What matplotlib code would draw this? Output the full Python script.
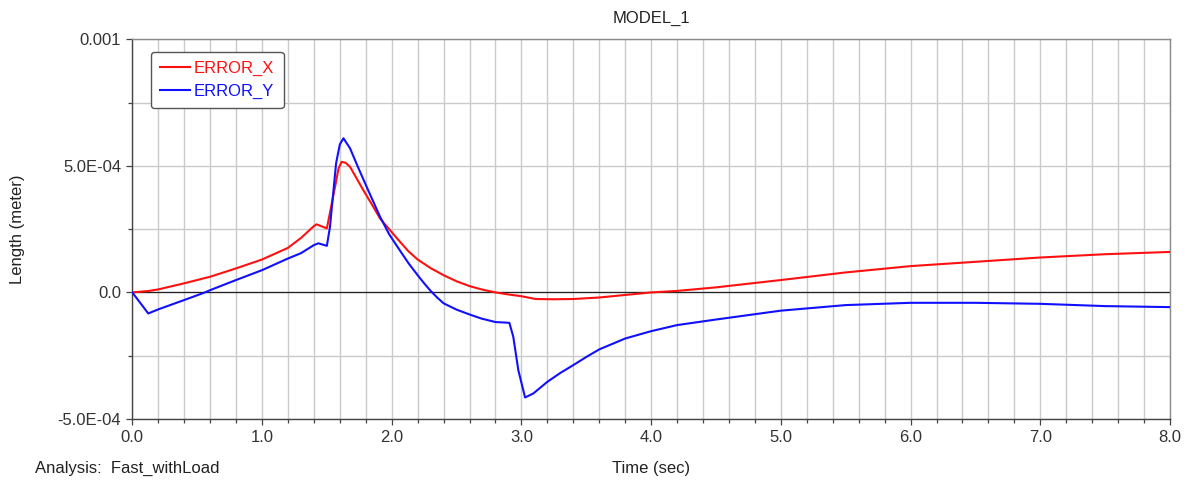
import matplotlib
matplotlib.use("Agg")
import matplotlib.pyplot as plt
from matplotlib.ticker import FixedLocator, FixedFormatter, MultipleLocator

plt.rcParams['font.family'] = ['Liberation Sans', 'DejaVu Sans']
plt.rcParams['font.size'] = 12

# Simulation results (time in s, error in units of 1e-4 m)
time_x = [0.0, 0.13, 0.2, 0.4, 0.6, 0.8, 1.0, 1.2, 1.3, 1.4, 1.42, 1.5,
          1.563, 1.59, 1.614, 1.645, 1.679, 1.73, 1.781, 1.85, 1.91, 1.98,
          2.064, 2.13, 2.2, 2.3, 2.4, 2.5, 2.6, 2.7, 2.8, 2.9, 3.0, 3.11, 3.25,
          3.4, 3.6, 3.8, 4.0, 4.2, 4.5, 5.0, 5.5, 6.0, 6.5, 7.0, 7.5, 8.0]
error_x = [0.0, 0.06, 0.12, 0.36, 0.62, 0.95, 1.3, 1.76, 2.15, 2.62, 2.69, 2.53,
           4.17, 4.9, 5.16, 5.12, 4.96, 4.5, 4.04, 3.45, 2.92, 2.5,
           2.0, 1.62, 1.3, 0.96, 0.68, 0.44, 0.25, 0.11, 0.0, -0.08, -0.15, -0.26, -0.27,
           -0.26, -0.2, -0.1, 0.0, 0.06, 0.2, 0.49, 0.79, 1.04, 1.21, 1.38, 1.51, 1.6]

time_y = [0.0, 0.123, 0.2, 0.4, 0.56, 0.6, 0.8, 1.0, 1.2, 1.3, 1.4, 1.435, 1.5,
          1.524, 1.571, 1.6, 1.628, 1.679, 1.74, 1.807, 1.91, 1.98, 2.064, 2.13,
          2.2, 2.25, 2.3, 2.35, 2.4, 2.5, 2.6, 2.69, 2.8, 2.907, 2.937, 2.976,
          3.028, 3.092, 3.2, 3.3, 3.4, 3.5, 3.6, 3.8, 4.0, 4.2, 4.5, 5.0, 5.5,
          6.0, 6.5, 7.0, 7.5, 8.0]
error_y = [0.0, -0.83, -0.67, -0.3, 0.0, 0.09, 0.49, 0.88, 1.34, 1.55, 1.87, 1.94, 1.84,
           2.59, 5.1, 5.85, 6.09, 5.69, 4.95, 4.17, 2.99, 2.3, 1.65, 1.15,
           0.68, 0.36, 0.06, -0.2, -0.43, -0.68, -0.87, -1.03, -1.17, -1.2, -1.75, -3.07,
           -4.15, -3.99, -3.53, -3.18, -2.87, -2.55, -2.25, -1.82, -1.53, -1.29, -1.07,
           -0.72, -0.5, -0.41, -0.41, -0.45, -0.54, -0.58]

series_names = ["ERROR_X", "ERROR_Y"]
x_ticks = [0.0, 1.0, 2.0, 3.0, 4.0, 5.0, 6.0, 7.0, 8.0]
x_tick_labels = ["0.0", "1.0", "2.0", "3.0", "4.0", "5.0", "6.0", "7.0", "8.0"]
y_ticks = [-5e-4, 0.0, 5e-4, 1e-3]
y_tick_labels = ["-5.0E-04", "0.0", "5.0E-04", "0.001"]

SCALE = 1e-4

fig = plt.figure(figsize=(11.94, 4.84), dpi=100)
ax = fig.add_axes([0.1108, 0.1343, 0.8691, 0.7845])

ax.set_xlim(0.0, 8.0)
ax.set_ylim(-5e-4, 1e-3)

# grid: every 0.2 s and every 2.5e-4 m
ax.xaxis.set_major_locator(FixedLocator(x_ticks))
ax.xaxis.set_major_formatter(FixedFormatter(x_tick_labels))
ax.xaxis.set_minor_locator(MultipleLocator(0.2))
ax.yaxis.set_major_locator(FixedLocator(y_ticks))
ax.yaxis.set_major_formatter(FixedFormatter(y_tick_labels))
ax.yaxis.set_minor_locator(MultipleLocator(2.5e-4))
ax.grid(True, which='both', color='#cacaca', linewidth=1.0)
ax.set_axisbelow(True)

ax.axhline(0.0, color='#222222', linewidth=0.9, zorder=2)

ax.plot(time_x, [v * SCALE for v in error_x], color='#ff1010', linewidth=1.5,
        label=series_names[0], zorder=3)
ax.plot(time_y, [v * SCALE for v in error_y], color='#1010ff', linewidth=1.5,
        label=series_names[1], zorder=4)

for side in ('left', 'bottom'):
    ax.spines[side].set_color('#444444')
    ax.spines[side].set_linewidth(1.0)
for side in ('top', 'right'):
    ax.spines[side].set_color('#8a8a8a')
    ax.spines[side].set_linewidth(1.0)

ax.tick_params(axis='both', which='major', length=4, width=0.9, color='#444444',
               labelcolor='#333333', labelsize=12)
ax.tick_params(axis='both', which='minor', length=3, width=0.9, color='#444444')
ax.tick_params(axis='x', which='major', pad=4)
ax.tick_params(axis='y', which='major', pad=4)

leg = ax.legend(loc='upper left', bbox_to_anchor=(0.0177, 0.967), borderaxespad=0,
                frameon=True, fancybox=True, framealpha=1.0, edgecolor='#555555',
                labelcolor='linecolor', handlelength=1.8, handletextpad=0.25,
                borderpad=0.55, labelspacing=0.45, fontsize=12)
leg.get_frame().set_linewidth(1.0)

fig.text(0.5452, 1 - 18 / 484, "MODEL_1", ha='center', va='center', color='#222222', fontsize=12)
fig.text(0.5452, 1 - 468 / 484, "Time (sec)", ha='center', va='center', color='#222222', fontsize=12)
fig.text(35 / 1194, 1 - 468 / 484, "Analysis:  Fast_withLoad", ha='left', va='center',
         color='#222222', fontsize=12)
fig.text(18 / 1194, 1 - 229 / 484, "Length (meter)", ha='center', va='center',
         rotation=90, color='#222222', fontsize=12)

fig.savefig("out.png", dpi=100)
